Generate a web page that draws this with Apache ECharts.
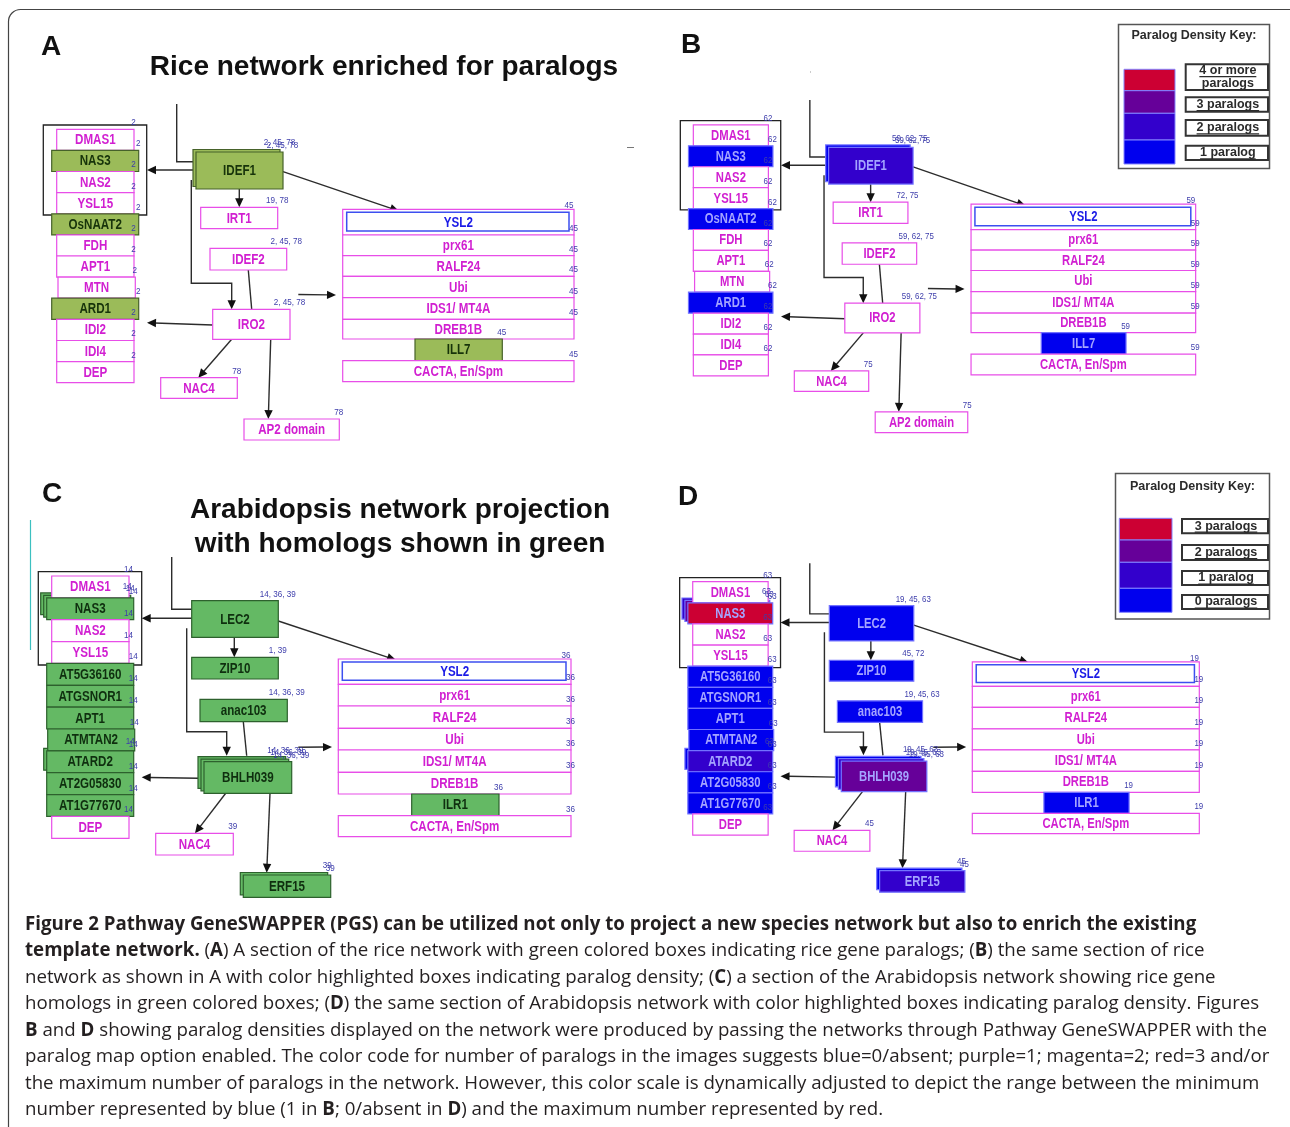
<!DOCTYPE html>
<html>
<head>
<meta charset="utf-8">
<title>Pathway GeneSWAPPER networks</title>
<script src="https://cdn.jsdelivr.net/npm/echarts@6/dist/echarts.min.js"></script>
<style>
html, body { margin: 0; padding: 0; background: #fff; }
#chart { width: 1290px; height: 1127px; }
</style>
</head>
<body>
<div id="chart"></div>
<script>
// ---------- rice network (panels A and B) ----------
const riceNames = ['DMAS1', 'NAS3', 'NAS2', 'YSL15', 'OsNAAT2', 'FDH', 'APT1', 'MTN', 'ARD1', 'IDI2', 'IDI4', 'DEP',
  'IDEF1', 'IRT1', 'IDEF2', 'IRO2', 'NAC4', 'AP2 domain',
  'YSL2', 'prx61', 'RALF24', 'Ubi', 'IDS1/ MT4A', 'DREB1B', 'ILL7', 'CACTA, En/Spm']
// box corners in network units [x0, y0, x1, y1]
const riceLayout = [
  [56.7, 129.3, 134, 150.4], [51.7, 150.4, 138.7, 171.5], [56.7, 171.5, 134, 192.6], [56.7, 192.6, 134, 213.8],
  [51.7, 213.8, 138.7, 234.9], [56.7, 234.9, 134, 256], [56.7, 256, 134, 277.1], [58, 277.1, 135.3, 298.2],
  [51.7, 298.2, 138.7, 319.4], [56.7, 319.4, 134, 340.5], [56.7, 340.5, 134, 361.6], [56.7, 361.6, 134, 382.7],
  [196, 152, 283, 189], [200.7, 207.3, 277.7, 228.7], [210, 248.3, 286.7, 270], [212.7, 309.3, 290, 339.3],
  [160.7, 377.7, 237.3, 398.3], [244, 419, 339.3, 440],
  [342.7, 209.3, 574, 235], [342.7, 235, 574, 255.7], [342.7, 255.7, 574, 276.3], [342.7, 276.3, 574, 297.7],
  [342.7, 297.7, 574, 319.3], [342.7, 319.3, 574, 339], [415, 339, 502.3, 360.7], [342.7, 360.7, 574, 381.7]
]
const riceCopies = [1, 1, 1, 1, 1, 1, 1, 1, 1, 1, 1, 1, 2, 1, 1, 1, 1, 1, 1, 1, 1, 1, 1, 1, 1, 1]
const riceFrame = [43.3, 125, 146.7, 215]
const riceEdges = [
  [[176.7, 104], [176.7, 161.7], [193, 161.7]],
  [[193, 170], [147, 170]],
  [[239.3, 189], [239.3, 207.3]],
  [[191.3, 180], [191.3, 283.3], [231.7, 283.3], [231.7, 309.3]],
  [[248.3, 270], [251.7, 309.3]],
  [[212.7, 325], [147, 322.7]],
  [[231.7, 339.3], [198.3, 377.7]],
  [[270.7, 339.3], [268.3, 419]],
  [[283, 171.7], [399, 211]],
  [[298.3, 294.5], [336, 295]]
]
const riceArrow = [0, 1, 1, 1, 0, 1, 1, 1, 1, 1]
// panel A: 1 = rice paralog shown in green
const riceHomologA = [0, 1, 0, 0, 1, 0, 0, 0, 1, 0, 0, 0, 1, 0, 0, 0, 0, 0, 0, 0, 0, 0, 0, 0, 1, 0]
// panel B: number of paralogs (null = none)
const riceParalogB = [null, 1, null, null, 1, null, null, null, 1, null, null, null,
  2, null, null, null, null, null, null, null, null, null, null, null, 1, null]
const riceTagsA = ['2', '2', '2', '2', '2', '2', '2', '2', '2', '2', '2', '2',
  '2, 45, 78', '19, 78', '2, 45, 78', '2, 45, 78', '78', '78',
  '45', '45', '45', '45', '45', '45', '45', '45']
const riceTagsB = ['62', '62', '62', '62', '62', '62', '62', '62', '62', '62', '62', '62',
  '59, 62, 75', '72, 75', '59, 62, 75', '59, 62, 75', '75', '75',
  '59', '59', '59', '59', '59', '59', '59', '59']

// ---------- Arabidopsis network (panels C and D) ----------
const arabNames = ['DMAS1', 'NAS3', 'NAS2', 'YSL15', 'AT5G36160', 'ATGSNOR1', 'APT1', 'ATMTAN2', 'ATARD2', 'AT2G05830', 'AT1G77670', 'DEP',
  'LEC2', 'ZIP10', 'anac103', 'BHLH039', 'NAC4', 'ERF15',
  'YSL2', 'prx61', 'RALF24', 'Ubi', 'IDS1/ MT4A', 'DREB1B', 'ILR1', 'CACTA, En/Spm']
const arabLayout = [
  [51.7, 576, 129, 597.9], [46.7, 597.9, 133.7, 619.7], [51.7, 619.7, 129, 641.6], [51.7, 641.6, 129, 663.4],
  [46.7, 663.4, 133.7, 685.3], [46.7, 685.3, 133.7, 707.2], [46.7, 707.2, 133.7, 729], [47.7, 729, 134.7, 750.9],
  [46.7, 750.9, 133.7, 772.7], [46.7, 772.7, 133.7, 794.6], [46.7, 794.6, 133.7, 816.4], [51.7, 816.4, 129, 838.3],
  [191.7, 600.7, 278.3, 637.3], [191.7, 657.3, 278.3, 679], [200, 699.3, 287.3, 721.7], [204, 761.7, 291.7, 793.3],
  [155.7, 833.3, 233.3, 855], [243.3, 875, 330.7, 897.3],
  [338.3, 659, 571, 684.3], [338.3, 684.3, 571, 706], [338.3, 706, 571, 728.3], [338.3, 728.3, 571, 750],
  [338.3, 750, 571, 772.3], [338.3, 772.3, 571, 794], [411.7, 794, 499, 815.7], [338.3, 815.7, 571, 836.7]
]
const arabCopies = [1, 3, 1, 1, 1, 1, 1, 1, 2, 1, 1, 1, 1, 1, 1, 3, 1, 2, 1, 1, 1, 1, 1, 1, 1, 1]
const arabFrame = [38.3, 571.7, 141.7, 665]
const arabEdges = [
  [[171.7, 557], [171.7, 609.3], [191.7, 609.3]],
  [[191.7, 618.3], [141.7, 618.3]],
  [[234.3, 637.3], [234.3, 657.3]],
  [[186.7, 628.3], [186.7, 731.7], [226.7, 731.7], [226.7, 755.7]],
  [[243.3, 721.7], [246.7, 755.7]],
  [[198.3, 778.3], [141.7, 777.3]],
  [[225.7, 793.3], [195, 833.3]],
  [[270, 793.3], [266.7, 872.7]],
  [[278.3, 621], [396, 660]],
  [[298.3, 747.3], [332, 747]]
]
const arabArrow = [0, 1, 1, 1, 0, 1, 1, 1, 1, 1]
const arabHomologC = [0, 1, 0, 0, 1, 1, 1, 1, 1, 1, 1, 0, 1, 1, 1, 1, 0, 1, 0, 0, 0, 0, 0, 0, 1, 0]
const arabParalogD = [null, 3, null, null, 0, 0, 0, 0, 1, 0, 0, null,
  0, 0, 0, 2, null, 1, null, null, null, null, null, null, 0, null]
const arabTagsC = ['14', '14', '14', '14', '14', '14', '14', '14', '14', '14', '14', '14',
  '14, 36, 39', '1, 39', '14, 36, 39', '14, 36, 39', '39', '39',
  '36', '36', '36', '36', '36', '36', '36', '36']
const arabTagsD = ['63', '63', '63', '63', '63', '63', '63', '63', '63', '63', '63', '63',
  '19, 45, 63', '45, 72', '19, 45, 63', '19, 45, 63', '45', '45',
  '19', '19', '19', '19', '19', '19', '19', '19']

// ---------- paralog density keys ----------
const keyColors = ['#cc0033', '#660099', '#3300cc', '#0000ee']
const keyLabelsB = ['4 or more\nparalogs', '3 paralogs', '2 paralogs', '1 paralog']
const keyLabelsD = ['3 paralogs', '2 paralogs', '1 paralog', '0 paralogs']

const captionLines = [
  '{b|Figure 2 Pathway GeneSWAPPER (PGS) can be utilized not only to project a new species network but also to enrich the existing}',
  '{b|template network.} ({b|A}) A section of the rice network with green colored boxes indicating rice gene paralogs; ({b|B}) the same section of rice',
  'network as shown in A with color highlighted boxes indicating paralog density; ({b|C}) a section of the Arabidopsis network showing rice gene',
  'homologs in green colored boxes; ({b|D}) the same section of Arabidopsis network with color highlighted boxes indicating paralog density. Figures',
  '{b|B} and {b|D} showing paralog densities displayed on the network were produced by passing the networks through Pathway GeneSWAPPER with the',
  'paralog map option enabled. The color code for number of paralogs in the images suggests blue=0/absent; purple=1; magenta=2; red=3 and/or',
  'the maximum number of paralogs in the network. However, this color scale is dynamically adjusted to depict the range between the minimum',
  'number represented by blue (1 in {b|B}; 0/absent in {b|D}) and the maximum number represented by red.'
]

// ---------- styles ----------
const SANS = '"Liberation Sans", Arial, Helvetica, sans-serif'
const CAP_FONT = '"Open Sans", "Noto Sans", sans-serif'
const PLAIN = { fill: '#ffffff', stroke: '#e84ee8', text: '#d11fd1' }
const GREEN_A = { fill: '#9bbb59', stroke: '#46622a', text: '#17330a' }
const GREEN_C = { fill: '#64b964', stroke: '#2d612d', text: '#0f2f0f' }
const RAMP = ['#0000ee', '#3300cc', '#660099', '#cc0033']
const TAG_COLOR = '#3d3dab'
const EDGE_COLOR = '#2c2c2c'

function paraStyle(level) {
  return { fill: RAMP[Math.max(0, Math.min(level, 3))], stroke: '#7272ff', text: '#a4a4ff' }
}

const rice = { names: riceNames, layout: riceLayout, copies: riceCopies, frame: riceFrame, edges: riceEdges, arrow: riceArrow }
const arab = { names: arabNames, layout: arabLayout, copies: arabCopies, frame: arabFrame, edges: arabEdges, arrow: arabArrow }

const panels = [
  { net: rice, grid: { left: 30, top: 95, width: 570, height: 355 }, x: [30, 600], y: [95, 450],
    green: GREEN_A, flags: riceHomologA, tags: riceTagsA, fs: 1 },
  { net: rice, grid: { left: 667.4, top: 91, width: 553.5, height: 351.5 }, x: [30, 600], y: [95, 450],
    counts: riceParalogB, minCount: 1, tags: riceTagsB, fs: 0.975 },
  { net: arab, grid: { left: 20, top: 555, width: 580, height: 355 }, x: [20, 600], y: [555, 910],
    green: GREEN_C, flags: arabHomologC, tags: arabTagsC, fs: 1 },
  { net: arab, grid: { left: 661.8, top: 561.4, width: 565.8, height: 343 }, x: [20, 600], y: [555, 910],
    counts: arabParalogD, minCount: 0, tags: arabTagsD, fs: 0.975 }
]

function styleFor(p, i, k) {
  if (p.flags) return p.flags[i] ? p.green : PLAIN
  const c = p.counts[i]
  if (c === null) return PLAIN
  return paraStyle(c - p.minCount - k)
}

// ---------- text measuring ----------
const mctx = document.createElement('canvas').getContext('2d')
function textWidth(str, font) {
  mctx.font = font
  return mctx.measureText(str).width
}

// ---------- series builders ----------
function buildItems(p) {
  const back = []
  const front = []
  const tags = []
  p.net.names.forEach((name, i) => {
    const b = p.net.layout[i]
    for (let k = p.net.copies[i] - 1; k >= 0; k--) {
      const dx = -3 * k
      const dy = -2.5 * k
      const it = { name, x0: b[0] + dx, y0: b[1] + dy, x1: b[2] + dx, y1: b[3] + dy,
        style: styleFor(p, i, k), inner: name === 'YSL2', front: k === 0 }
      ;(k ? back : front).push(it)
      const tx = it.inner ? it.x1 - 5 : it.x1 - 0.5
      const ty = (it.inner ? it.y0 + 3 : it.y0) - 6.5
      tags.push({ x: tx, y: ty, text: p.tags[i] })
    }
  })
  return { back, front, tags }
}

function boxRenderer(items, fs) {
  return function(params, api) {
    const it = items[params.dataIndex]
    const a = api.coord([it.x0, it.y0])
    const b = api.coord([it.x1, it.y1])
    const children = [{
      type: 'rect',
      shape: { x: a[0], y: a[1], width: b[0] - a[0], height: b[1] - a[1] },
      style: { fill: it.style.fill, stroke: it.style.stroke, lineWidth: 1.2 }
    }]
    let textColor = it.style.text
    if (it.inner) {
      const c = api.coord([it.x0 + 4, it.y0 + 3])
      const d = api.coord([it.x1 - 5, it.y1 - 4])
      children.push({
        type: 'rect',
        shape: { x: c[0], y: c[1], width: d[0] - c[0], height: d[1] - c[1] },
        style: { fill: '#ffffff', stroke: '#3d4ff0', lineWidth: 1.5 }
      })
      textColor = '#1a1ae6'
    }
    if (it.front) {
      children.push({
        type: 'text',
        x: (a[0] + b[0]) / 2,
        y: (a[1] + b[1]) / 2 + 0.5,
        scaleX: 0.8,
        style: {
          text: it.name, x: 0, y: 0, align: 'center', verticalAlign: 'middle',
          textAlign: 'center', textVerticalAlign: 'middle',
          fill: textColor, font: 'bold ' + (14.5 * fs).toFixed(1) + 'px ' + SANS
        }
      })
    }
    return { type: 'group', children }
  }
}

function tagRenderer(tags, fs) {
  return function(params, api) {
    const t = tags[params.dataIndex]
    const a = api.coord([t.x, t.y])
    return {
      type: 'text', x: a[0], y: a[1], scaleX: 0.9,
      style: {
        text: t.text, x: 0, y: 0, align: 'center', verticalAlign: 'middle',
        textAlign: 'center', textVerticalAlign: 'middle',
        fill: TAG_COLOR, font: (9 * fs).toFixed(1) + 'px ' + SANS
      }
    }
  }
}

function edgeRenderer(net) {
  return function(params, api) {
    const pts = net.edges[params.dataIndex].map(q => api.coord(q))
    const children = []
    const n = pts.length
    let line = pts.slice()
    if (net.arrow[params.dataIndex]) {
      const tip = pts[n - 1]
      const prev = pts[n - 2]
      const vx = tip[0] - prev[0]
      const vy = tip[1] - prev[1]
      const len = Math.hypot(vx, vy)
      const ux = vx / len
      const uy = vy / len
      const L = 9
      const W = 4.2
      const bx = tip[0] - ux * L
      const by = tip[1] - uy * L
      line[n - 1] = [bx + ux * 1.5, by + uy * 1.5]
      children.push({
        type: 'polygon',
        shape: { points: [tip, [bx - uy * W, by + ux * W], [bx + uy * W, by - ux * W]] },
        style: { fill: '#111111' }
      })
    }
    children.unshift({
      type: 'polyline',
      shape: { points: line },
      style: { stroke: EDGE_COLOR, lineWidth: 1.4, fill: null }
    })
    return { type: 'group', children }
  }
}

const grid = []
const xAxis = []
const yAxis = []
const series = []

panels.forEach((p, gi) => {
  grid.push(Object.assign({ show: false }, p.grid))
  xAxis.push({ type: 'value', gridIndex: gi, min: p.x[0], max: p.x[1], show: false })
  yAxis.push({ type: 'value', gridIndex: gi, min: p.y[0], max: p.y[1], inverse: true, show: false })
  const items = buildItems(p)
  const common = { type: 'custom', coordinateSystem: 'cartesian2d', xAxisIndex: gi, yAxisIndex: gi, silent: true, animation: false }
  series.push(Object.assign({}, common, {
    name: 'edges' + gi, z: 1,
    data: p.net.edges.map(e => e[0]),
    renderItem: edgeRenderer(p.net)
  }))
  series.push(Object.assign({}, common, {
    name: 'frame' + gi, z: 1,
    data: [[p.net.frame[0], p.net.frame[1]]],
    renderItem: function(params, api) {
      const f = p.net.frame
      const a = api.coord([f[0], f[1]])
      const b = api.coord([f[2], f[3]])
      return { type: 'rect', shape: { x: a[0], y: a[1], width: b[0] - a[0], height: b[1] - a[1] },
        style: { fill: null, stroke: '#222222', lineWidth: 1.3 } }
    }
  }))
  series.push(Object.assign({}, common, {
    name: 'copies' + gi, z: 2,
    data: items.back.map(it => [it.x0, it.y0]),
    renderItem: boxRenderer(items.back, p.fs)
  }))
  series.push(Object.assign({}, common, {
    name: 'boxes' + gi, z: 3,
    data: items.front.map(it => [it.x0, it.y0]),
    renderItem: boxRenderer(items.front, p.fs)
  }))
  series.push(Object.assign({}, common, {
    name: 'tags' + gi, z: 4,
    data: items.tags.map(t => [t.x, t.y]),
    renderItem: tagRenderer(items.tags, p.fs)
  }))
})

// ---------- graphic: keys, titles, caption ----------
const graphic = []

graphic.push({ type: 'rect', shape: { x: 8.5, y: 9.5, width: 1300, height: 1140, r: 12 },
  style: { fill: null, stroke: '#444444', lineWidth: 1.2 } })

function addText(x, y, text, font, fill, align) {
  graphic.push({ type: 'text', x, y, style: { text, font, fill: fill || '#111111',
    align: align || 'center', verticalAlign: 'middle', textAlign: align || 'center', textVerticalAlign: 'middle' } })
}

const TITLE_FONT = 'bold 28px ' + SANS
addText(51, 47, 'A', TITLE_FONT)
addText(691, 45, 'B', TITLE_FONT)
addText(52, 494, 'C', TITLE_FONT)
addText(688, 497, 'D', TITLE_FONT)
addText(384, 67, 'Rice network enriched for paralogs', TITLE_FONT)
addText(400, 510, 'Arabidopsis network projection', TITLE_FONT)
addText(400, 544, 'with homologs shown in green', TITLE_FONT)

// small stray marks in the source figure
graphic.push({ type: 'line', shape: { x1: 627, y1: 147.5, x2: 634, y2: 147.5 }, style: { stroke: '#777777', lineWidth: 1 } })
graphic.push({ type: 'line', shape: { x1: 810, y1: 72, x2: 811, y2: 72 }, style: { stroke: '#999999', lineWidth: 1 } })
graphic.push({ type: 'line', shape: { x1: 30.5, y1: 520, x2: 30.5, y2: 650 }, style: { stroke: '#3cc0c0', lineWidth: 1.2 } })

function addKey(box, titleY, swX, swY, labX, labY, labels) {
  graphic.push({ type: 'rect', shape: { x: box[0], y: box[1], width: box[2] - box[0], height: box[3] - box[1] },
    style: { fill: '#ffffff', stroke: '#555555', lineWidth: 1.5 } })
  addText((box[0] + box[2]) / 2, titleY, 'Paralog Density Key:', 'bold 12.5px ' + SANS, '#2b2b2b')
  keyColors.forEach((c, i) => {
    graphic.push({ type: 'rect', shape: { x: swX[0], y: swY[i], width: swX[1] - swX[0], height: swY[i + 1] - swY[i] },
      style: { fill: c, stroke: '#8383ff', lineWidth: 1 } })
  })
  const lf = 'bold 12.5px ' + SANS
  labels.forEach((lab, i) => {
    const [t, b] = labY[i]
    graphic.push({ type: 'rect', shape: { x: labX[0], y: t, width: labX[1] - labX[0], height: b - t },
      style: { fill: '#ffffff', stroke: '#333333', lineWidth: 2 } })
    const lines = lab.split('\n')
    const cx = (labX[0] + labX[1]) / 2 + 1
    lines.forEach((ln, j) => {
      const cy = (t + b) / 2 + (j - (lines.length - 1) / 2) * 13
      addText(cx, cy, ln, lf, '#2b2b2b')
      const w = textWidth(ln, lf)
      graphic.push({ type: 'line', shape: { x1: cx - w / 2, y1: cy + 6, x2: cx + w / 2, y2: cy + 6 },
        style: { stroke: '#2b2b2b', lineWidth: 1.2 } })
    })
  })
}

addKey([1118.5, 24.5, 1269.5, 168.5], 36, [1124, 1175], [69.3, 90.7, 113.3, 140, 164],
  [1185.7, 1268], [[64.3, 90], [97.3, 111.7], [120, 135.7], [145.7, 160]], keyLabelsB)
addKey([1115.5, 473.5, 1269.5, 619], 487, [1119.3, 1172], [518.3, 540, 562.3, 588.3, 612.3],
  [1182, 1268], [[519, 533.3], [545, 560], [571, 585], [595, 609]], keyLabelsD)

// caption: size the font so the full-width line spans the text column
function segments(line) {
  const out = []
  const re = /\{b\|([^}]*)\}/g
  let last = 0
  let m
  while ((m = re.exec(line))) {
    if (m.index > last) out.push([line.slice(last, m.index), false])
    out.push([m[1], true])
    last = re.lastIndex
  }
  if (last < line.length) out.push([line.slice(last), false])
  return out
}
function lineWidth(line, size) {
  return segments(line).reduce((s, seg) => s + textWidth(seg[0], (seg[1] ? 'bold ' : '') + size + 'px ' + CAP_FONT), 0)
}
const capSize = Math.round(100 * 1245 / lineWidth(captionLines[5], 100) * 10) / 10
captionLines.forEach((ln, i) => {
  graphic.push({ type: 'text', x: 25, y: 924.5 + i * 26.5, style: {
    text: ln, fontFamily: CAP_FONT, fontSize: capSize, fill: '#231f20',
    align: 'left', verticalAlign: 'middle', textAlign: 'left', textVerticalAlign: 'middle',
    rich: { b: { fontFamily: CAP_FONT, fontSize: capSize, fontWeight: 'bold', fill: '#231f20' } }
  } })
})

const chart = echarts.init(document.getElementById('chart'), null, { renderer: 'canvas' })
chart.setOption({
  animation: false,
  backgroundColor: '#ffffff',
  grid, xAxis, yAxis, series, graphic
})
</script>
</body>
</html>
